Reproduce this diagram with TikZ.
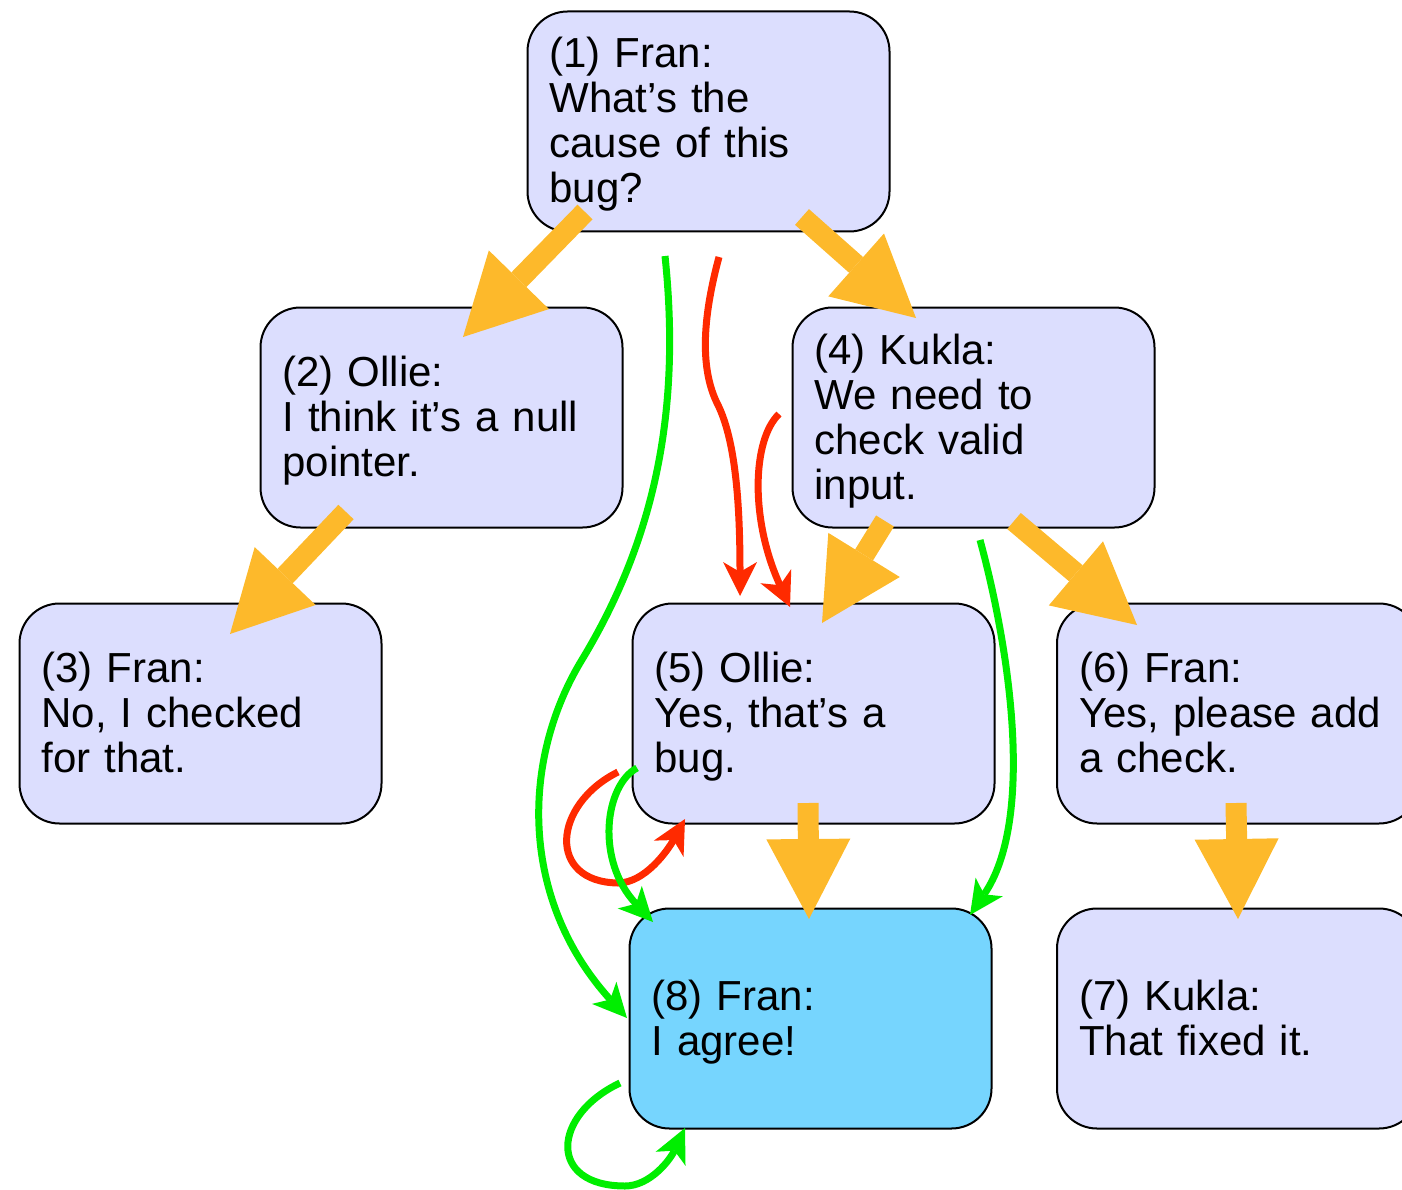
\documentclass[tikz,border=0pt]{standalone}
\usepackage{fontspec}
\setmainfont{Liberation Sans}
\usetikzlibrary{arrows.meta}
\definecolor{boxfill}{HTML}{DCDEFE}
\definecolor{agreefill}{HTML}{76D5FE}
\definecolor{support}{HTML}{FDB92B}
\definecolor{attack}{HTML}{FF2A00}
\definecolor{agree}{HTML}{00EE00}
% common height of the first line and depth of the last line of every message
\newcommand{\msgstart}{\rule{0pt}{37pt}}
\newcommand{\msgend}{\rule[-9pt]{0pt}{9pt}}
\begin{document}
\begin{tikzpicture}[x=1pt,y=-1pt,
  msg/.style={draw=black, line width=2pt, fill=boxfill, rounded corners=40pt,
    minimum height=220pt, text width=318pt, inner xsep=22pt, inner ysep=0pt,
    align=left, font=\fontsize{42}{45}\selectfont},
  reply/.style={line width=21pt, draw=support,
    -{Triangle[length=80pt,width=84pt,line width=0pt]}},
  attackarrow/.style={line width=7pt, draw=attack,
    -{Stealth[length=34pt,width=34pt,inset=10pt,line width=0pt]}},
  agreearrow/.style={line width=7pt, draw=agree,
    -{Stealth[length=34pt,width=33pt,inset=9pt,line width=0pt]}}]
\useasboundingbox (0,0) rectangle (1402,1190);

% messages
\node[msg] (n1) at (708.5,121.5) {\msgstart(1) Fran:\\What’s the\\cause of this\\bug?\msgend};
\node[msg] (n2) at (441.5,417.5) {\msgstart(2) Ollie:\\I think it’s a null\\pointer.\msgend};
\node[msg] (n3) at (200.5,713.5) {\msgstart(3) Fran:\\No, I checked\\for that.\msgend};
\node[msg] (n4) at (973.5,417.5) {\msgstart(4) Kukla:\\We need to\\check valid\\input.\msgend};
\node[msg] (n5) at (813.5,713.5) {\msgstart(5) Ollie:\\Yes, that’s a\\bug.\msgend};
\node[msg] (n6) at (1238,713.5) {\msgstart(6) Fran:\\Yes, please add\\a check.\msgend};
\node[msg] (n7) at (1238,1018.5) {\msgstart(7) Kukla:\\That fixed it.\msgend};
\node[msg, fill=agreefill] (n8) at (810.5,1018.5) {\msgstart(8) Fran:\\I agree!\msgend};

% replies
\draw[reply] ([shift={(-123.5,90.5)}]n1.center) -- ([shift={(21.5,-80.5)}]n2.center);
\draw[reply] ([shift={(93.5,95.5)}]n1.center) -- ([shift={(-57.5,-99.5)}]n4.center);
\draw[reply] ([shift={(-95.5,94.5)}]n2.center) -- ([shift={(29.5,-79.5)}]n3.center);
\draw[reply] ([shift={(-88.5,103.5)}]n4.center) -- ([shift={(8.5,-90.5)}]n5.center);
\draw[reply] ([shift={(40.5,103.5)}]n4.center) -- ([shift={(-101,-88.5)}]n6.center);
\draw[reply] ([shift={(-5.5,89.5)}]n5.center) -- ([shift={(-1.5,-99.5)}]n8.center);
\draw[reply] ([shift={(-2,89.5)}]n6.center) -- ([shift={(0,-99.5)}]n7.center);

% disagreements
\draw[attackarrow] ([shift={(10.5,135.5)}]n1.center)
  .. controls (702,320) and (700,370) .. (718,405)
  .. controls (735,440) and (740,500) .. ([shift={(-73.5,-117.5)}]n5.center);
\draw[attackarrow] ([shift={(-194.5,-3.5)}]n4.center)
  .. controls (752,440) and (750,520) .. ([shift={(-23.5,-106.5)}]n5.center);
\draw[attackarrow] ([shift={(-195.5,58.5)}]n5.center)
  .. controls (552,805) and (547,882) .. (618,883)
  .. controls (645,883) and (668,850) .. ([shift={(-128.5,105.5)}]n5.center);

% agreements
\draw[agreearrow] ([shift={(-43.5,134.5)}]n1.center)
  .. controls (680,400) and (660,530) .. (583,658)
  .. controls (520,760) and (520,900) .. ([shift={(-183.5,-0.5)}]n8.center);
\draw[agreearrow] ([shift={(-176.5,54.5)}]n5.center)
  .. controls (605,785) and (595,860) .. ([shift={(-157.5,-96.5)}]n8.center);
\draw[agreearrow] ([shift={(6.5,122.5)}]n4.center)
  .. controls (1010,650) and (1035,820) .. ([shift={(159.5,-103.5)}]n8.center);
\draw[agreearrow] ([shift={(-190.5,64.5)}]n8.center)
  .. controls (552,1115) and (547,1186) .. (625,1186)
  .. controls (650,1186) and (670,1160) .. ([shift={(-125.5,109.5)}]n8.center);
\end{tikzpicture}
\end{document}
